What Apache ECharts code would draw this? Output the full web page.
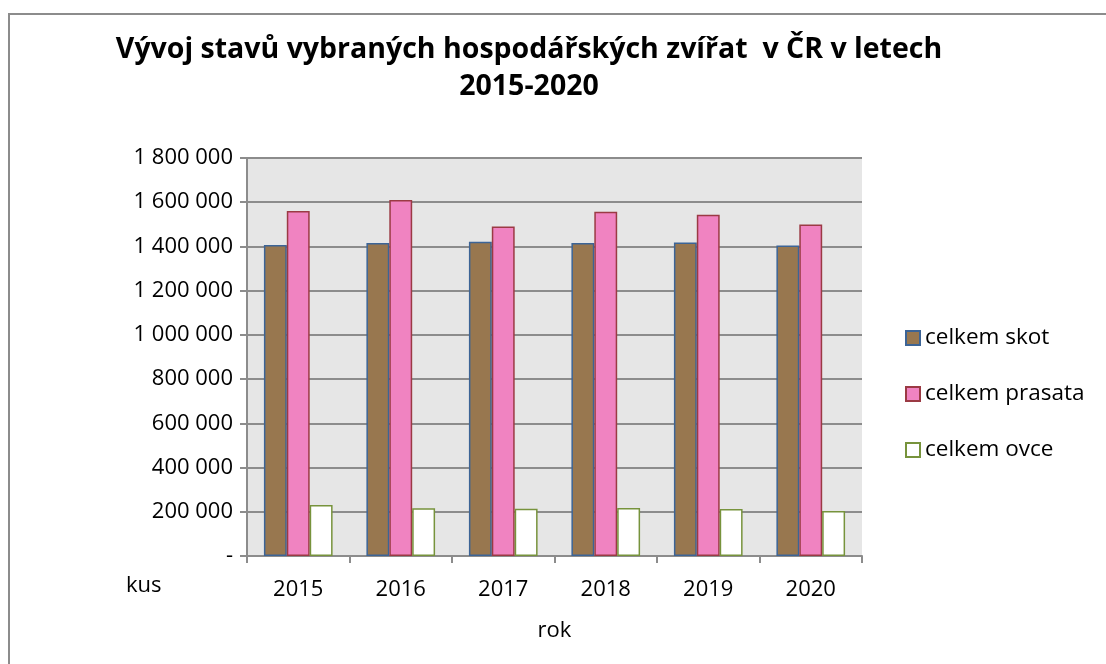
<!DOCTYPE html>
<html>
<head>
<meta charset="utf-8">
<script src="https://cdn.jsdelivr.net/npm/echarts@6/dist/echarts.min.js"></script>
<style>
  html, body { margin: 0; padding: 0; background: #fff; }
  #chart { width: 1106px; height: 664px; }
</style>
</head>
<body>
<div id="chart"></div>
<script>
// roky a stavy zvirat (kusy)
var years = ['2015', '2016', '2017', '2018', '2019', '2020'];
var skot = [1407000, 1416000, 1421000, 1416000, 1418000, 1404000];
var prasata = [1560000, 1610000, 1490000, 1557000, 1543000, 1499000];
var ovce = [231000, 216000, 214000, 217000, 213000, 204000];
var seriesNames = ['celkem skot', 'celkem prasata', 'celkem ovce'];

var font = "'Open Sans', 'Noto Sans', sans-serif";

// format 1 800 000, nula jako pomlcka
function fmt(v) {
  if (v === 0) return '-';
  return String(v).replace(/\B(?=(\d{3})+(?!\d))/g, ' ');
}

var chart = echarts.init(document.getElementById('chart'));

var option = {
  backgroundColor: '#fff',
  animation: false,
  textStyle: { fontFamily: font },
  title: [
    {
      text: 'Vývoj stavů vybraných hospodářských zvířat  v ČR v letech\n2015-2020',
      left: 524,
      textAlign: 'center',
      top: 26,
      textStyle: {
        fontFamily: font,
        fontSize: 28.5,
        fontWeight: 'bold',
        color: '#000',
        lineHeight: 37
      }
    },
    {
      text: 'kus',
      left: 121,
      top: 570,
      textStyle: { fontFamily: font, fontSize: 22, fontWeight: 'normal', color: '#000' }
    }
  ],
  legend: {
    orient: 'vertical',
    left: 900,
    top: 321,
    itemWidth: 14,
    itemHeight: 14,
    itemGap: 32,
    icon: 'rect',
    textStyle: { fontFamily: font, fontSize: 22.5, color: '#000', lineHeight: 24 },
    data: [
      { name: seriesNames[0], itemStyle: { color: '#98774f', borderColor: '#3c6496', borderWidth: 2 } },
      { name: seriesNames[1], itemStyle: { color: '#f083c1', borderColor: '#9b3a44', borderWidth: 2 } },
      { name: seriesNames[2], itemStyle: { color: '#ffffff', borderColor: '#77933c', borderWidth: 2 } }
    ]
  },
  grid: {
    show: true,
    left: 247,
    right: 244,
    top: 158,
    bottom: 108,
    backgroundColor: '#e6e6e6',
    borderWidth: 0
  },
  xAxis: {
    type: 'category',
    data: years,
    name: 'rok',
    nameLocation: 'middle',
    nameGap: 64,
    nameTextStyle: { fontFamily: font, fontSize: 22, color: '#000' },
    axisLine: { lineStyle: { color: '#8c8c8c', width: 2 } },
    axisTick: { show: true, length: 7, lineStyle: { color: '#8c8c8c', width: 2 } },
    axisLabel: { fontFamily: font, fontSize: 22, color: '#000', margin: 23 }
  },
  yAxis: {
    type: 'value',
    min: 0,
    max: 1800000,
    interval: 200000,
    axisLine: { show: true, lineStyle: { color: '#8c8c8c', width: 2 } },
    axisTick: { show: true, length: 7, lineStyle: { color: '#8c8c8c', width: 2 } },
    splitLine: { lineStyle: { color: '#8c8c8c', width: 2 } },
    axisLabel: { fontFamily: font, fontSize: 22, color: '#000', margin: 14, formatter: fmt }
  },
  series: [
    {
      name: seriesNames[0],
      type: 'bar',
      data: skot,
      barGap: '0%',
      barCategoryGap: '33%',
      itemStyle: { color: '#98774f', borderColor: '#3c6496', borderWidth: 1.5 }
    },
    {
      name: seriesNames[1],
      type: 'bar',
      data: prasata,
      itemStyle: { color: '#f083c1', borderColor: '#9b3a44', borderWidth: 1.5 }
    },
    {
      name: seriesNames[2],
      type: 'bar',
      data: ovce,
      itemStyle: { color: '#ffffff', borderColor: '#77933c', borderWidth: 1.5 }
    }
  ],
  graphic: [
    {
      type: 'rect',
      shape: { x: 9, y: 14, width: 1120, height: 700 },
      style: { fill: 'none', stroke: '#8c8c8c', lineWidth: 2 },
      silent: true,
      z: -1
    }
  ]
};

chart.setOption(option);
</script>
</body>
</html>
